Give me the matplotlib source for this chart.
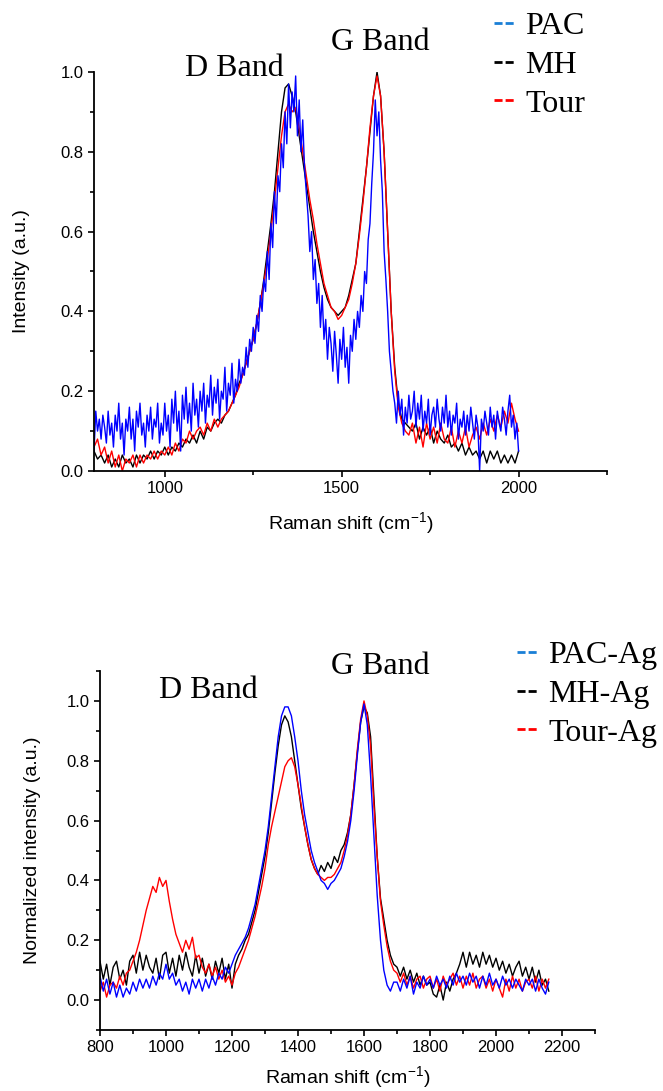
import numpy as np
import matplotlib
matplotlib.use("Agg")
import matplotlib.pyplot as plt
from matplotlib.lines import Line2D
from matplotlib.ticker import MultipleLocator, FormatStrFormatter

plt.rcParams['font.family'] = ['Liberation Sans', 'DejaVu Sans']
plt.rcParams['mathtext.fontset'] = 'custom'
plt.rcParams['mathtext.rm'] = 'Liberation Sans'
plt.rcParams['mathtext.default'] = 'regular'

# ---- top panel: raw carbons ----
shift_top = np.arange(800, 2001, 10)
shift_top_pac = np.arange(800, 2001, 5)

mh = [0.05, 0.03, 0.04, 0.02, 0.04, 0.01, 0.03, 0.01, 0.04, 0.02,
      0.03, 0.01, 0.04, 0.02, 0.04, 0.03, 0.05, 0.03, 0.05, 0.04,
      0.06, 0.04, 0.06, 0.05, 0.07, 0.06, 0.08, 0.07, 0.09, 0.07,
      0.10, 0.08, 0.11, 0.10, 0.12, 0.13, 0.12, 0.14, 0.15, 0.17,
      0.19, 0.22, 0.24, 0.27, 0.30, 0.33, 0.37, 0.42, 0.48, 0.55,
      0.62, 0.70, 0.80, 0.90, 0.96, 0.97, 0.94, 0.90, 0.84, 0.78,
      0.72, 0.66, 0.60, 0.55, 0.50, 0.46, 0.43, 0.41, 0.40, 0.39,
      0.40, 0.41, 0.44, 0.48, 0.52, 0.60, 0.68, 0.76, 0.85, 0.94,
      1.00, 0.94, 0.80, 0.60, 0.40, 0.26, 0.17, 0.13, 0.12, 0.11,
      0.10, 0.12, 0.08, 0.11, 0.09, 0.11, 0.07, 0.10, 0.08, 0.07,
      0.09, 0.06, 0.07, 0.05, 0.07, 0.04, 0.06, 0.04, 0.05, 0.03,
      0.05, 0.02, 0.05, 0.03, 0.05, 0.02, 0.04, 0.02, 0.04, 0.02, 0.05]

tour = [0.06, 0.08, 0.04, 0.06, 0.02, 0.05, 0.01, 0.04, 0.00, 0.03,
        0.02, 0.04, 0.01, 0.04, 0.02, 0.04, 0.03, 0.05, 0.03, 0.05,
        0.04, 0.06, 0.04, 0.07, 0.05, 0.08, 0.07, 0.10, 0.08, 0.10,
        0.11, 0.09, 0.12, 0.10, 0.13, 0.11, 0.13, 0.14, 0.15, 0.17,
        0.19, 0.21, 0.24, 0.27, 0.30, 0.33, 0.37, 0.42, 0.47, 0.53,
        0.60, 0.68, 0.76, 0.84, 0.90, 0.92, 0.90, 0.91, 0.86, 0.80,
        0.74, 0.68, 0.63, 0.57, 0.52, 0.47, 0.44, 0.41, 0.40, 0.38,
        0.39, 0.41, 0.43, 0.47, 0.52, 0.59, 0.67, 0.76, 0.86, 0.94,
        0.99, 0.94, 0.80, 0.60, 0.40, 0.25, 0.16, 0.12, 0.10, 0.09,
        0.12, 0.07, 0.11, 0.06, 0.12, 0.08, 0.11, 0.07, 0.12, 0.08,
        0.07, 0.11, 0.06, 0.10, 0.07, 0.11, 0.06, 0.09, 0.11, 0.08,
        0.12, 0.09, 0.13, 0.10, 0.14, 0.11, 0.15, 0.12, 0.17, 0.13, 0.10]

pac = [0.05, 0.15, 0.10, 0.13, 0.08, 0.14, 0.11, 0.07, 0.15, 0.09, 0.12, 0.06, 0.14, 0.10, 0.17, 0.08, 0.12, 0.04, 0.13, 0.10,
       0.16, 0.08, 0.13, 0.05, 0.15, 0.11, 0.17, 0.09, 0.12, 0.06, 0.14, 0.10, 0.16, 0.08, 0.13, 0.11, 0.17, 0.07, 0.12, 0.09,
       0.17, 0.10, 0.14, 0.06, 0.18, 0.12, 0.20, 0.10, 0.15, 0.05, 0.19, 0.13, 0.21, 0.12, 0.17, 0.10, 0.22, 0.14, 0.18, 0.11,
       0.20, 0.15, 0.22, 0.12, 0.19, 0.16, 0.24, 0.14, 0.21, 0.17, 0.23, 0.13, 0.20, 0.18, 0.26, 0.15, 0.22, 0.19, 0.27, 0.17,
       0.23, 0.20, 0.28, 0.22, 0.26, 0.24, 0.31, 0.26, 0.33, 0.30, 0.36, 0.32, 0.39, 0.35, 0.44, 0.40, 0.48, 0.45, 0.55, 0.48,
       0.62, 0.56, 0.70, 0.62, 0.74, 0.70, 0.82, 0.76, 0.90, 0.82, 0.97, 0.86, 0.95, 0.90, 0.99, 0.84, 0.93, 0.80, 0.88, 0.76,
       0.70, 0.64, 0.55, 0.60, 0.48, 0.53, 0.42, 0.47, 0.36, 0.44, 0.33, 0.38, 0.28, 0.36, 0.32, 0.25, 0.35, 0.29, 0.22, 0.33,
       0.28, 0.36, 0.26, 0.31, 0.22, 0.34, 0.30, 0.38, 0.33, 0.40, 0.36, 0.44, 0.40, 0.50, 0.47, 0.58, 0.62, 0.72, 0.80, 0.93,
       0.84, 0.90, 0.78, 0.70, 0.55, 0.48, 0.40, 0.30, 0.25, 0.20, 0.17, 0.12, 0.20, 0.14, 0.18, 0.09, 0.16, 0.12, 0.19, 0.13,
       0.15, 0.20, 0.11, 0.17, 0.13, 0.19, 0.10, 0.15, 0.12, 0.18, 0.09, 0.14, 0.16, 0.11, 0.18, 0.13, 0.10, 0.16, 0.12, 0.19,
       0.11, 0.15, 0.09, 0.14, 0.12, 0.17, 0.08, 0.13, 0.11, 0.15, 0.09, 0.14, 0.10, 0.16, 0.12, 0.08, 0.14, 0.11, 0.00, 0.13,
       0.10, 0.15, 0.12, 0.09, 0.16, 0.11, 0.14, 0.08, 0.15, 0.12, 0.10, 0.16, 0.13, 0.09, 0.15, 0.19, 0.11, 0.14, 0.08, 0.12,
       0.05]

# ---- bottom panel: Ag loaded samples ----
shift_bot = np.arange(800, 2161, 10)

pac_ag = [0.08, 0.03, 0.07, 0.02, 0.06, 0.01, 0.05, 0.01, 0.04, 0.02,
          0.06, 0.03, 0.07, 0.04, 0.07, 0.04, 0.08, 0.05, 0.09, 0.07,
          0.12, 0.07, 0.09, 0.05, 0.07, 0.03, 0.06, 0.02, 0.07, 0.04,
          0.07, 0.03, 0.07, 0.04, 0.08, 0.05, 0.09, 0.07, 0.11, 0.09,
          0.12, 0.15, 0.17, 0.19, 0.21, 0.24, 0.28, 0.32, 0.38, 0.44,
          0.50, 0.58, 0.68, 0.78, 0.88, 0.95, 0.98, 0.98, 0.95, 0.88,
          0.80, 0.70, 0.62, 0.56, 0.50, 0.46, 0.43, 0.40, 0.39, 0.37,
          0.39, 0.40, 0.42, 0.44, 0.48, 0.53, 0.60, 0.70, 0.82, 0.93,
          0.99, 0.92, 0.75, 0.55, 0.35, 0.20, 0.10, 0.05, 0.03, 0.06,
          0.06, 0.03, 0.07, 0.04, 0.08, 0.02, 0.06, 0.04, 0.08, 0.05,
          0.07, 0.04, 0.08, 0.05, 0.07, 0.04, 0.08, 0.05, 0.09, 0.06,
          0.08, 0.05, 0.09, 0.06, 0.08, 0.04, 0.08, 0.05, 0.09, 0.05,
          0.07, 0.04, 0.08, 0.05, 0.07, 0.04, 0.07, 0.05, 0.03, 0.07,
          0.05, 0.07, 0.03, 0.07, 0.04, 0.02, 0.06]

mh_ag = [0.13, 0.07, 0.12, 0.05, 0.11, 0.13, 0.07, 0.10, 0.05, 0.13,
         0.15, 0.09, 0.16, 0.10, 0.15, 0.11, 0.09, 0.14, 0.07, 0.15,
         0.16, 0.09, 0.14, 0.08, 0.15, 0.10, 0.16, 0.11, 0.08, 0.15,
         0.09, 0.14, 0.08, 0.12, 0.07, 0.13, 0.09, 0.14, 0.07, 0.12,
         0.04, 0.12, 0.15, 0.17, 0.20, 0.22, 0.26, 0.30, 0.36, 0.42,
         0.48, 0.56, 0.66, 0.76, 0.85, 0.92, 0.95, 0.93, 0.88, 0.80,
         0.72, 0.64, 0.58, 0.52, 0.47, 0.44, 0.42, 0.45, 0.43, 0.46,
         0.44, 0.48, 0.46, 0.50, 0.52, 0.56, 0.62, 0.72, 0.83, 0.93,
         0.98, 0.96, 0.88, 0.68, 0.48, 0.34, 0.27, 0.20, 0.15, 0.12,
         0.11, 0.08, 0.11, 0.07, 0.10, 0.06, 0.09, 0.05, 0.08, 0.05,
         0.06, 0.02, 0.01, 0.05, 0.00, 0.06, 0.03, 0.07, 0.09, 0.12,
         0.16, 0.11, 0.16, 0.12, 0.15, 0.11, 0.16, 0.12, 0.15, 0.11,
         0.14, 0.10, 0.13, 0.09, 0.12, 0.08, 0.11, 0.13, 0.08, 0.11,
         0.07, 0.11, 0.06, 0.10, 0.05, 0.07, 0.03]

tour_ag = [0.03, 0.06, 0.01, 0.05, 0.06, 0.04, 0.08, 0.05, 0.09, 0.10,
           0.13, 0.16, 0.20, 0.25, 0.30, 0.34, 0.38, 0.36, 0.41, 0.38,
           0.40, 0.33, 0.27, 0.22, 0.19, 0.16, 0.20, 0.17, 0.21, 0.14,
           0.15, 0.11, 0.09, 0.12, 0.08, 0.11, 0.07, 0.10, 0.06, 0.08,
           0.05, 0.09, 0.11, 0.14, 0.17, 0.20, 0.24, 0.28, 0.33, 0.38,
           0.44, 0.52, 0.58, 0.63, 0.68, 0.73, 0.78, 0.80, 0.81, 0.78,
           0.72, 0.65, 0.58, 0.52, 0.47, 0.44, 0.42, 0.41, 0.40, 0.41,
           0.41, 0.42, 0.44, 0.46, 0.50, 0.55, 0.62, 0.72, 0.84, 0.94,
           1.00, 0.95, 0.85, 0.65, 0.48, 0.33, 0.25, 0.18, 0.13, 0.10,
           0.09, 0.06, 0.09, 0.05, 0.08, 0.04, 0.07, 0.08, 0.04, 0.07,
           0.08, 0.04, 0.07, 0.03, 0.08, 0.05, 0.07, 0.09, 0.05, 0.08,
           0.04, 0.08, 0.05, 0.09, 0.04, 0.07, 0.08, 0.04, 0.07, 0.03,
           0.07, 0.04, 0.01, 0.07, 0.03, 0.08, 0.04, 0.07, 0.03, 0.06,
           0.07, 0.04, 0.08, 0.03, 0.07, 0.04, 0.07]

labels_top = ['PAC', 'MH', 'Tour']
labels_bot = ['PAC-Ag', 'MH-Ag', 'Tour-Ag']
legend_colors = ['#1a7fd6', 'black', '#ff0000']

serif = ['Liberation Serif', 'DejaVu Serif']
W, H = 663, 1091

fig = plt.figure(figsize=(6.63, 10.91), dpi=100)
ax1 = fig.add_axes([94 / W, 1 - 471 / H, 513 / W, 399 / H])
ax2 = fig.add_axes([100 / W, 1 - 1030 / H, 495 / W, 359 / H])

ax1.plot(shift_top, mh, color='black', lw=1)
ax1.plot(shift_top, tour, color='#ff0000', lw=1)
ax1.plot(shift_top_pac, pac, color='#0000ff', lw=1)
ax1.set_xlim(800, 2250)
ax1.set_ylim(0, 1.0)
ax1.xaxis.set_major_locator(MultipleLocator(500))
ax1.xaxis.set_minor_locator(MultipleLocator(250))
ax1.yaxis.set_major_locator(MultipleLocator(0.2))
ax1.yaxis.set_minor_locator(MultipleLocator(0.1))
ax1.set_ylabel('Intensity (a.u.)', fontsize=14, labelpad=22)
ax1.set_xlabel('Raman shift (cm$^{-1}$)', fontsize=14, labelpad=10)

ax2.plot(shift_bot, mh_ag, color='black', lw=1)
ax2.plot(shift_bot, tour_ag, color='#ff0000', lw=1)
ax2.plot(shift_bot, pac_ag, color='#0000ff', lw=1)
ax2.set_xlim(800, 2300)
ax2.set_ylim(-0.1, 1.1)
ax2.xaxis.set_major_locator(MultipleLocator(200))
ax2.xaxis.set_minor_locator(MultipleLocator(100))
ax2.yaxis.set_major_locator(MultipleLocator(0.2))
ax2.yaxis.set_minor_locator(MultipleLocator(0.1))
ax2.set_ylabel('Normalized intensity (a.u.)', fontsize=14, labelpad=18)
ax2.set_xlabel('Raman shift (cm$^{-1}$)', fontsize=14, labelpad=6)

for ax in (ax1, ax2):
    ax.spines['top'].set_visible(False)
    ax.spines['right'].set_visible(False)
    ax.spines['left'].set_linewidth(1.3)
    ax.spines['bottom'].set_linewidth(1.3)
    ax.yaxis.set_major_formatter(FormatStrFormatter('%.1f'))
    ax.tick_params(which='major', direction='out', length=4, width=1.2, labelsize=12)
    ax.tick_params(which='minor', direction='out', length=3, width=1.2)

fig.text(234 / W, 1 - 69 / H, 'D Band', family=serif, fontsize=23, ha='center', va='center')
fig.text(380 / W, 1 - 43 / H, 'G Band', family=serif, fontsize=23, ha='center', va='center')
fig.text(208 / W, 1 - 690 / H, 'D Band', family=serif, fontsize=23, ha='center', va='center')
fig.text(380 / W, 1 - 666 / H, 'G Band', family=serif, fontsize=23, ha='center', va='center')

def dash_handles():
    return [Line2D([], [], color=c, lw=2, dashes=(2.9, 1.1)) for c in legend_colors]

ax1.legend(dash_handles(), labels_top, loc='upper left',
           bbox_to_anchor=(494 / W, 1 - 12 / H), bbox_transform=fig.transFigure,
           frameon=False, prop={'family': serif, 'size': 23}, handlelength=0.63,
           handletextpad=0.35, labelspacing=0.29, borderpad=0, borderaxespad=0)
ax2.legend(dash_handles(), labels_bot, loc='upper left',
           bbox_to_anchor=(517 / W, 1 - 641 / H), bbox_transform=fig.transFigure,
           frameon=False, prop={'family': serif, 'size': 23}, handlelength=0.63,
           handletextpad=0.35, labelspacing=0.29, borderpad=0, borderaxespad=0)

fig.savefig('out.png', dpi=100)
